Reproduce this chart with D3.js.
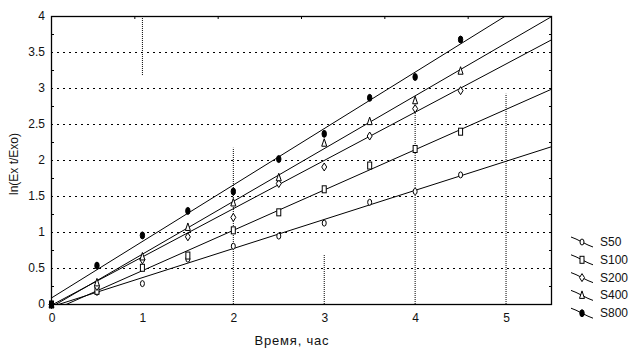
<!DOCTYPE html>
<html>
<head>
<meta charset="utf-8">
<script src="https://cdn.jsdelivr.net/npm/d3@7"></script>
<style>
  body { margin: 0; background: #fff; }
  svg { display: block; font-family: "Liberation Sans", Arial, sans-serif; }
</style>
</head>
<body>
<svg width="637" height="355"></svg>
<script>
// Data
const hours = [0, 0.5, 1, 1.5, 2, 2.5, 3, 3.5, 4, 4.5];
const seriesNames = ['S50', 'S100', 'S200', 'S400', 'S800'];
const s50  = [0, 0.17, 0.29, 0.63, 0.81, 0.95, 1.13, 1.42, 1.57, 1.80];
const s100 = [0, 0.19, 0.51, 0.68, 1.03, 1.28, 1.60, 1.93, 2.16, 2.40];
const s200 = [0, 0.25, 0.62, 0.94, 1.21, 1.68, 1.91, 2.34, 2.72, 2.97];
const s400 = [0, 0.30, 0.66, 1.07, 1.41, 1.76, 2.24, 2.54, 2.83, 3.24];
const s800 = [0, 0.54, 0.96, 1.30, 1.57, 2.02, 2.37, 2.87, 3.16, 3.68];
// fitted lines: intercept and slope
const intercepts = [-0.04, -0.10, -0.02, -0.045, 0.08];
const slopes     = [0.404, 0.56, 0.67, 0.733, 0.784];
const yTicks = [0, 0.5, 1, 1.5, 2, 2.5, 3, 3.5, 4];
const xTicks = [0, 1, 2, 3, 4, 5];
// partly visible vertical grid lines [x, from y value, to y value]
const vGrid = [[1, 3.18, 4], [2, 0, 2.17], [3, 0, 0.68], [4, 0, 2.69], [5, 0, 2.92]];

const values = [s50, s100, s200, s400, s800];

const svg = d3.select('svg');
const m = {left: 51, top: 16, right: 551, bottom: 304};

const x = d3.scaleLinear().domain([0, 5.5]).range([m.left, m.right]);
const y = d3.scaleLinear().domain([0, 4]).range([m.bottom, m.top]);

svg.append('rect').attr('width', 637).attr('height', 355).attr('fill', '#fff');

// Horizontal grid
svg.append('g')
    .selectAll('line')
    .data(yTicks.filter(d => d > 0 && d < 4))
    .join('line')
    .attr('x1', m.left).attr('x2', m.right)
    .attr('y1', d => y(d) + 0.5).attr('y2', d => y(d) + 0.5)
    .attr('stroke', '#000')
    .attr('stroke-dasharray', '2,4');

// Vertical grid pieces
svg.append('g')
    .selectAll('line')
    .data(vGrid)
    .join('line')
    .attr('x1', d => x(d[0]) + 0.5).attr('x2', d => x(d[0]) + 0.5)
    .attr('y1', d => y(d[1])).attr('y2', d => y(d[2]))
    .attr('stroke', '#000')
    .attr('stroke-dasharray', '1,1');

// Clip for the fitted lines
svg.append('clipPath').attr('id', 'plot')
    .append('rect')
    .attr('x', m.left).attr('y', m.top)
    .attr('width', m.right - m.left).attr('height', m.bottom - m.top);

const line = d3.line().x(d => x(d[0])).y(d => y(d[1]));

svg.append('g')
    .attr('clip-path', 'url(#plot)')
    .selectAll('path')
    .data(seriesNames.map((n, i) => [[0, intercepts[i]], [5.5, intercepts[i] + slopes[i] * 5.5]]))
    .join('path')
    .attr('d', line)
    .attr('fill', 'none')
    .attr('stroke', '#000')
    .attr('stroke-width', 1);

// Marker shapes (small, Statistica style)
function marker(g, i) {
    if (i === 0) {
        g.append('ellipse').attr('rx', 2).attr('ry', 3)
            .attr('fill', '#fff').attr('stroke', '#000');
    } else if (i === 1) {
        g.append('rect').attr('x', -2).attr('y', -3.5).attr('width', 4).attr('height', 7)
            .attr('fill', '#fff').attr('stroke', '#000');
    } else if (i === 2) {
        g.append('path').attr('d', 'M0,-4L2.5,0L0,4L-2.5,0Z')
            .attr('fill', '#fff').attr('stroke', '#000');
    } else if (i === 3) {
        g.append('path').attr('d', 'M0,-4.5L2.5,3L-2.5,3Z')
            .attr('fill', '#fff').attr('stroke', '#000');
    } else {
        g.append('ellipse').attr('rx', 2.2).attr('ry', 3.5)
            .attr('fill', '#000').attr('stroke', '#000');
    }
}

values.forEach((vals, i) => {
    svg.append('g')
        .selectAll('g')
        .data(vals.map((v, j) => [hours[j], v]))
        .join('g')
        .attr('transform', d => `translate(${x(d[0]) + 0.5},${y(d[1]) + 0.5})`)
        .each(function() { marker(d3.select(this), i); });
});

// Frame
svg.append('rect')
    .attr('x', m.left + 0.5).attr('y', m.top + 0.5)
    .attr('width', m.right - m.left).attr('height', m.bottom - m.top)
    .attr('fill', 'none').attr('stroke', '#000').attr('stroke-width', 1.3);

// Minor ticks inside the frame
const minorY = d3.range(0.25, 4, 0.5);
svg.append('g').selectAll('line').data(minorY).join('line')
    .attr('x1', m.left).attr('x2', m.left + 3)
    .attr('y1', d => y(d) + 0.5).attr('y2', d => y(d) + 0.5)
    .attr('stroke', '#000');
svg.append('g').selectAll('line').data(minorY).join('line')
    .attr('x1', m.right - 2).attr('x2', m.right)
    .attr('y1', d => y(d) + 0.5).attr('y2', d => y(d) + 0.5)
    .attr('stroke', '#000');
svg.append('g').selectAll('line').data(d3.range(1, 6).map(k => k * 5.5 / 6)).join('line')
    .attr('x1', d => x(d) + 0.5).attr('x2', d => x(d) + 0.5)
    .attr('y1', m.top).attr('y2', m.top + 3)
    .attr('stroke', '#000');

// Tick labels
svg.append('g').selectAll('text').data(yTicks).join('text')
    .attr('x', m.left - 6).attr('y', d => y(d) + 4)
    .attr('text-anchor', 'end')
    .attr('font-size', 12)
    .attr('fill', '#111')
    .text(d => d);

svg.append('g').selectAll('text').data(xTicks).join('text')
    .attr('x', d => x(d) + 1).attr('y', m.bottom + 18)
    .attr('text-anchor', 'middle')
    .attr('font-size', 12)
    .attr('fill', '#111')
    .text(d => d);

// Axis titles
svg.append('text')
    .attr('x', 292).attr('y', 345)
    .attr('text-anchor', 'middle')
    .attr('font-size', 13)
    .attr('letter-spacing', 0.8)
    .attr('fill', '#111')
    .text('Время, час');

svg.append('text')
    .attr('transform', 'translate(18,164) rotate(-90)')
    .attr('text-anchor', 'middle')
    .attr('font-size', 12)
    .attr('fill', '#111')
    .text('ln(Ex t/Exo)');

// Legend
const legend = svg.append('g').selectAll('g').data(seriesNames).join('g')
    .attr('transform', (d, i) => `translate(582,${242 + i * 17.8})`);
legend.append('path')
    .attr('d', 'M-11,-5L-6,-3L6,3L11,5')
    .attr('fill', 'none')
    .attr('stroke', '#000');
legend.each(function(d, i) {
    marker(d3.select(this).append('g'), i);
});
legend.append('text')
    .attr('x', 18).attr('y', 4)
    .attr('font-size', 12)
    .attr('fill', '#111')
    .text(d => d);
</script>
</body>
</html>
